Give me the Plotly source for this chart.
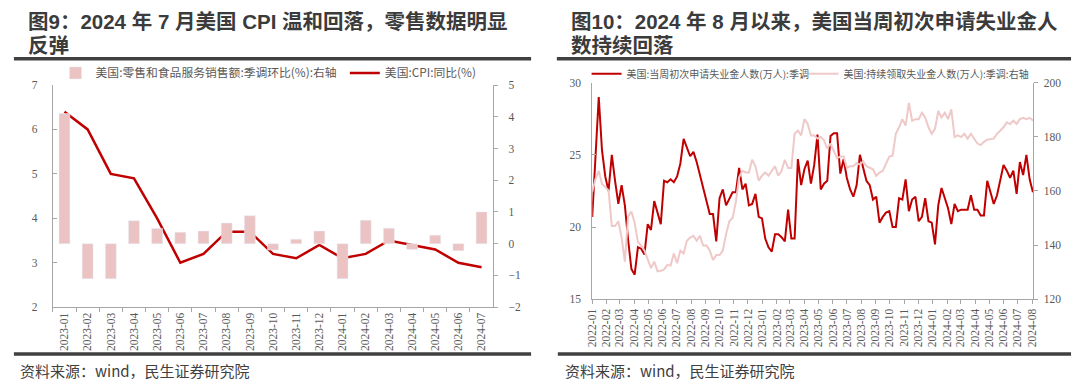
import plotly.graph_objects as go
import pandas as pd

W, H = 1080, 392

# ---------------- data: left chart ----------------
months = ["2023-01", "2023-02", "2023-03", "2023-04", "2023-05", "2023-06", "2023-07",
          "2023-08", "2023-09", "2023-10", "2023-11", "2023-12", "2024-01", "2024-02",
          "2024-03", "2024-04", "2024-05", "2024-06", "2024-07"]
cpi_yoy = [6.4, 6.0, 5.0, 4.9, 4.0, 3.0, 3.2, 3.7, 3.7, 3.2, 3.1, 3.4, 3.1, 3.2, 3.5, 3.4, 3.3, 3.0, 2.9]
retail_mom = [4.1, -1.1, -1.1, 0.72, 0.48, 0.36, 0.4, 0.65, 0.88, -0.2, 0.14, 0.4, -1.1, 0.74,
              0.49, -0.18, 0.27, -0.22, 1.0]

# ---------------- data: right chart (weekly) ----------------
week_start = "2022-01-01"
initial_claims = [
    20.7, 24.5, 29.0, 25.3, 23.5, 22.5, 25.0, 23.2, 21.6, 22.9,
    21.5, 19.1, 17.1, 16.7, 18.6, 18.5, 18.1, 20.2, 19.8, 21.8,
    21.0, 20.2, 23.2, 23.1, 23.3, 23.1, 23.5, 24.4, 26.1, 25.5,
    24.9, 25.2, 24.5, 23.6, 22.7, 21.7, 20.9, 20.9, 19.0, 22.0,
    22.6, 21.5, 21.9, 22.4, 22.4, 24.1, 22.6, 23.0, 21.5, 21.6,
    22.3, 20.7, 20.6, 19.2, 18.6, 18.3, 19.5, 19.5, 19.3, 19.0,
    21.2, 19.2, 19.2, 24.7, 22.9, 24.0, 24.6, 23.0, 24.3, 26.4,
    22.6, 23.0, 23.2, 26.3, 26.5, 26.5, 23.7, 24.7, 23.4, 22.6,
    22.1, 22.9, 25.0, 24.0, 23.2, 22.9, 21.9, 22.1, 20.3, 20.7,
    21.0, 21.1, 20.0, 20.0, 22.0, 21.9, 23.3, 21.1, 21.9, 22.1,
    20.4, 20.7, 22.0, 20.4, 20.3, 18.8, 21.5, 22.7, 22.0, 21.3,
    20.2, 21.6, 21.1, 21.2, 21.2, 21.2, 22.2, 21.2, 21.2, 20.8,
    20.8, 23.2, 22.4, 21.6, 22.2, 23.2, 24.3, 23.9, 23.4, 23.9,
    22.3, 24.5, 23.6, 25.0, 23.3, 22.4]
continuing_claims = [
    159.6, 164.4, 167.4, 162.6, 161.4, 160.2, 147.0, 147.0, 148.8, 142.8,
    133.9, 150.6, 152.4, 148.2, 141.1, 139.8, 138.0, 134.5, 131.5, 133.9,
    130.3, 130.5, 131.0, 132.7, 132.4, 136.9, 133.3, 138.0, 136.9, 141.6,
    142.8, 143.4, 141.6, 143.4, 139.8, 139.8, 138.0, 134.5, 136.3, 136.3,
    138.0, 144.0, 148.8, 150.0, 156.0, 165.0, 167.4, 166.8, 166.8, 171.5,
    169.1, 163.8, 165.6, 166.8, 165.6, 167.4, 169.1, 165.6, 167.4, 171.5,
    168.5, 168.5, 181.1, 182.3, 180.5, 186.5, 184.7, 180.5, 180.5, 179.3,
    179.9, 178.7, 175.7, 177.5, 174.5, 172.1, 172.7, 172.7, 168.5, 169.1,
    169.1, 170.3, 169.7, 170.9, 169.1, 168.5, 168.0, 165.6, 166.8, 167.4,
    170.3, 172.7, 173.0, 181.1, 183.5, 186.5, 184.1, 192.5, 185.9, 186.5,
    186.5, 188.9, 187.1, 183.5, 181.1, 182.9, 189.5, 187.1, 188.9, 186.5,
    190.1, 179.9, 180.5, 179.9, 181.1, 179.3, 181.1, 179.3, 177.5, 176.9,
    178.1, 178.9, 179.0, 179.3, 181.1, 182.3, 183.5, 185.3, 184.7, 185.9,
    184.7, 186.5, 187.0, 186.5, 187.0, 186.0]
weeks = pd.date_range(week_start, periods=len(initial_claims), freq="7D")

# ---------------- texts ----------------
title_left = ["图9：2024 年 7 月美国 CPI 温和回落，零售数据明显", "反弹"]
title_right = ["图10：2024 年 8 月以来，美国当周初次申请失业金人", "数持续回落"]
source_text = "资料来源：wind，民生证券研究院"
name_retail = "美国:零售和食品服务销售额:季调环比(%):右轴"
name_cpi = "美国:CPI:同比(%)"
name_initial = "美国:当周初次申请失业金人数(万人):季调"
name_cont = "美国:持续领取失业金人数(万人):季调:右轴"

# ---------------- styles ----------------
RED = "#c00000"
PINK_BAR = "#ebc3c3"
PINK_LINE = "#efc8c8"
AXIS = "#a6a6a6"
TICK_FONT = dict(family="Liberation Serif, Times New Roman, serif", size=11.5, color="#595959")
CJK = "Noto Sans CJK SC, sans-serif"
TITLE_FAMILY = "Liberation Sans, Noto Sans CJK SC, sans-serif"
LEG_FONT_L = dict(family=CJK, size=11.8, color="#595959")
LEG_FONT_R = dict(family=CJK, size=10, color="#595959")


def px(x):
    return x / W


def py(y):
    return 1 - y / H


fig = go.Figure()

fig.add_trace(go.Bar(x=months, y=retail_mom, name=name_retail, marker_color=PINK_BAR,
                     width=0.47, xaxis="x", yaxis="y2", legend="legend"))
fig.add_trace(go.Scatter(x=months, y=cpi_yoy, name=name_cpi, mode="lines",
                         line=dict(color=RED, width=2.5), xaxis="x", yaxis="y", legend="legend2"))
fig.add_trace(go.Scatter(x=weeks, y=continuing_claims, name=name_cont, mode="lines",
                         line=dict(color=PINK_LINE, width=2), xaxis="x2", yaxis="y4", legend="legend4"))
fig.add_trace(go.Scatter(x=weeks, y=initial_claims, name=name_initial, mode="lines",
                         line=dict(color=RED, width=2), xaxis="x2", yaxis="y3", legend="legend3"))

axis_common = dict(showgrid=False, zeroline=False, showline=True, linecolor=AXIS, linewidth=1,
                   tickfont=TICK_FONT, tickcolor=AXIS, ticklen=4)

L_dom_x = [px(47.3), px(491.7)]
L_dom_y = [py(310.7), py(81.5)]
R_dom_x = [px(591.7), px(1037)]
R_dom_y = [py(302.5), py(79)]

leg_common = dict(xanchor="left", yanchor="middle", orientation="h",
                  bgcolor="rgba(0,0,0,0)", itemwidth=30)

fig.update_layout(
    width=W, height=H, margin=dict(l=0, r=0, t=0, b=0),
    paper_bgcolor="white", plot_bgcolor="white", showlegend=True,
    xaxis=dict(axis_common, domain=L_dom_x, anchor="y", type="category", range=[-0.5, 18.5],
               ticks="outside", tickson="boundaries", tickangle=-90),
    yaxis=dict(axis_common, domain=L_dom_y, anchor="x", range=[2, 7], dtick=1,
               ticks="inside", ticklabelstandoff=12),
    yaxis2=dict(axis_common, overlaying="y", side="right", anchor="x", range=[-2, 5], dtick=1,
                ticks="outside", ticklabelstandoff=8),
    xaxis2=dict(axis_common, domain=R_dom_x, anchor="y3", type="date",
                range=["2022-01-01", "2024-08-04"], dtick="M1", tick0="2022-01-01",
                tickformat="%Y-%m", ticks="outside", tickangle=-90),
    yaxis3=dict(axis_common, domain=R_dom_y, anchor="x2", range=[15, 30], dtick=5,
                ticks="inside", ticklabelstandoff=8),
    yaxis4=dict(axis_common, overlaying="y3", side="right", anchor="x2", range=[120, 200], dtick=20,
                ticks="outside", ticklabelstandoff=3),
    legend=dict(leg_common, x=px(50), y=py(69), font=LEG_FONT_L),
    legend2=dict(leg_common, x=px(342), y=py(69), font=LEG_FONT_L),
    legend3=dict(leg_common, x=px(586), y=py(70), font=LEG_FONT_R),
    legend4=dict(leg_common, x=px(805), y=py(70), font=LEG_FONT_R),
)

annotations = []
for (lines, x0) in [(title_left, 20), (title_right, 568)]:
    for k, t in enumerate(lines):
        annotations.append(dict(text="<b>%s</b>" % t, x=px(x0), y=py(16 + 25 * k),
                                xref="paper", yref="paper", xanchor="left", yanchor="middle",
                                align="left", showarrow=False,
                                font=dict(family=TITLE_FAMILY, size=20.5, color="#3b3b3b")))
for x0 in [12, 562]:
    annotations.append(dict(text=source_text, x=px(x0), y=py(376), xref="paper", yref="paper",
                            xanchor="left", yanchor="middle", showarrow=False,
                            font=dict(family=CJK, size=15, color="#404040")))
fig.update_layout(annotations=annotations)

shapes = []
for (x0, x1) in [(8, 530), (556, 1075)]:
    shapes.append(dict(type="line", xref="paper", yref="paper", x0=px(x0), x1=px(x1),
                       y0=py(54.3), y1=py(54.3), line=dict(color="#404040", width=3.5)))
for (x0, x1) in [(8, 530), (557, 1075)]:
    shapes.append(dict(type="line", xref="paper", yref="paper", x0=px(x0), x1=px(x1),
                       y0=py(359), y1=py(359), line=dict(color="#404040", width=3.5)))
fig.update_layout(shapes=shapes)

fig.write_html("out.html", config={"displayModeBar": False},
               post_script="document.body.style.margin='0';")
